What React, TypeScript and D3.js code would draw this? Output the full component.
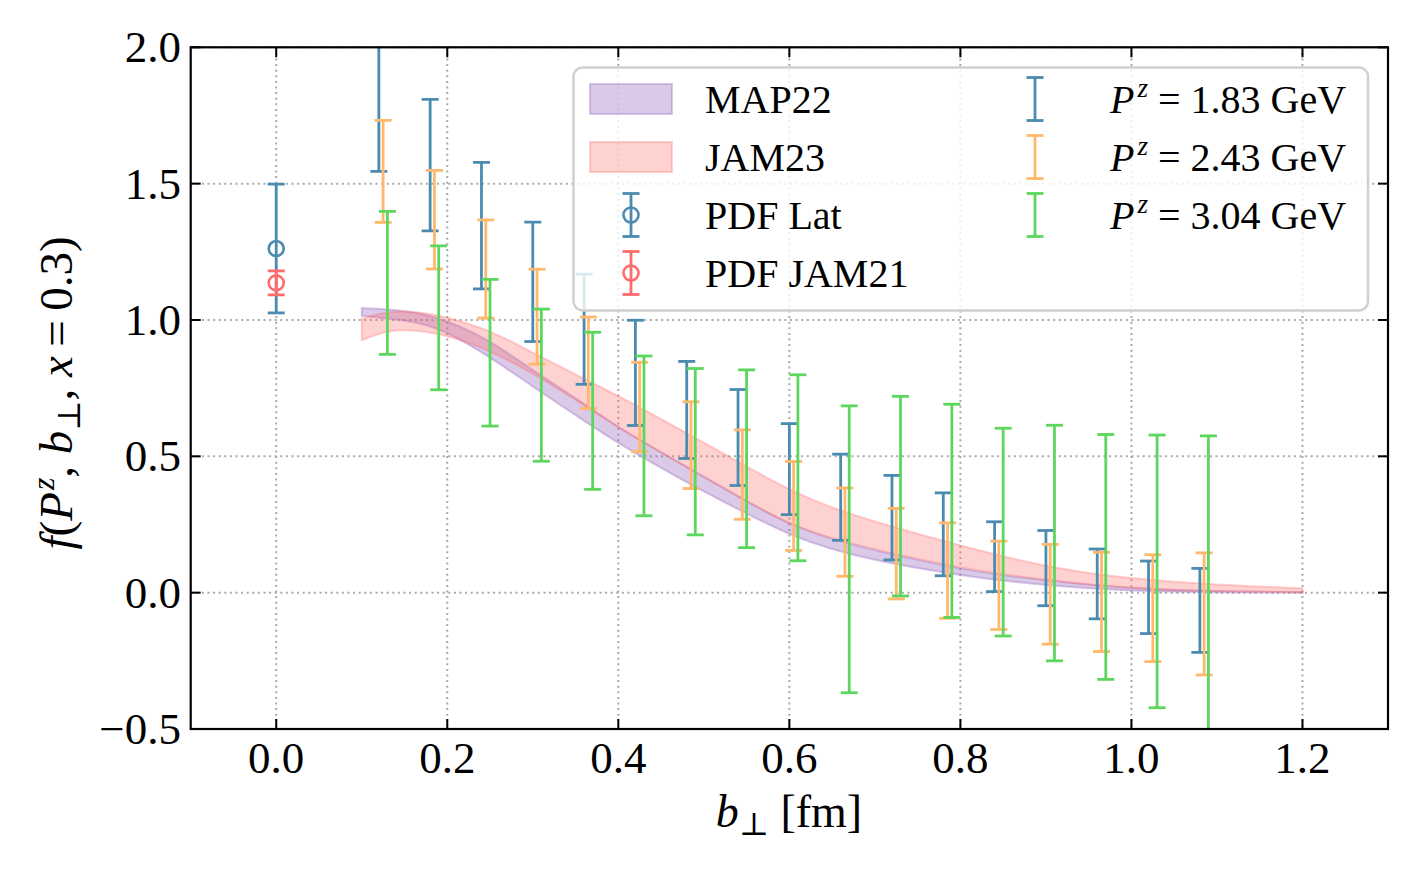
import React from "react";
import * as d3 from "d3";

// ---------- data ----------
const xTicks = [0.0, 0.2, 0.4, 0.6, 0.8, 1.0, 1.2];
const yTicks = [-0.5, 0.0, 0.5, 1.0, 1.5, 2.0];

const bPerp = [0.12, 0.18, 0.24, 0.3, 0.36, 0.42, 0.48, 0.54, 0.6, 0.66, 0.72, 0.78, 0.84, 0.9, 0.96, 1.02, 1.08];
const seriesOffset = [0, 0.005, 0.01];

const pz183Val = [1.813, 1.568, 1.346, 1.14, 0.966, 0.806, 0.67, 0.569, 0.453, 0.35, 0.275, 0.214, 0.132, 0.09, 0.032, -0.017, -0.065];
const pz183Err = [0.268, 0.241, 0.232, 0.219, 0.202, 0.193, 0.178, 0.176, 0.167, 0.158, 0.155, 0.152, 0.128, 0.138, 0.128, 0.133, 0.154];

const pz243Val = [1.545, 1.368, 1.187, 1.012, 0.843, 0.681, 0.541, 0.433, 0.318, 0.222, 0.143, 0.081, 0.027, -0.006, -0.034, -0.057, -0.078];
const pz243Err = [0.187, 0.181, 0.18, 0.174, 0.168, 0.164, 0.159, 0.164, 0.163, 0.162, 0.166, 0.175, 0.162, 0.183, 0.182, 0.196, 0.224];

const pz304Val = [1.136, 1.008, 0.88, 0.761, 0.667, 0.575, 0.517, 0.491, 0.458, 0.159, 0.354, 0.3, 0.222, 0.182, 0.131, 0.078, 0.0];
const pz304Err = [0.262, 0.264, 0.269, 0.279, 0.288, 0.293, 0.305, 0.326, 0.341, 0.526, 0.366, 0.391, 0.381, 0.432, 0.449, 0.5, 0.575];

const pdfX = [0.0];
const pdfLatVal = [1.262];
const pdfLatErr = [0.236];
const pdfJamVal = [1.136];
const pdfJamErr = [0.044];

const bandX = [0.1, 0.13, 0.165, 0.2, 0.25, 0.3, 0.35, 0.4, 0.45, 0.5, 0.55, 0.6, 0.65, 0.7, 0.8, 0.9, 1.0, 1.1, 1.2];
const map22Lo = [1.015, 1.005, 0.993, 0.956, 0.865, 0.755, 0.651, 0.547, 0.457, 0.37, 0.29, 0.211, 0.158, 0.118, 0.062, 0.025, 0.005, 0.001, 0.0];
const map22Hi = [1.044, 1.04, 1.028, 0.999, 0.926, 0.815, 0.715, 0.605, 0.515, 0.425, 0.335, 0.25, 0.195, 0.155, 0.085, 0.043, 0.015, 0.005, 0.002];
const jam23Lo = [0.926, 0.963, 0.963, 0.944, 0.889, 0.805, 0.708, 0.605, 0.513, 0.425, 0.335, 0.25, 0.198, 0.158, 0.089, 0.045, 0.014, 0.004, 0.001];
const jam23Hi = [1.005, 1.032, 1.032, 1.011, 0.963, 0.88, 0.8, 0.722, 0.637, 0.55, 0.463, 0.376, 0.31, 0.26, 0.172, 0.093, 0.05, 0.028, 0.016];

const seriesLabels = ["1.83", "2.43", "3.04"];

// ---------- style ----------
const W = 1420;
const H = 878;
const L = 190.7, R = 1388, T = 47.3, B = 729;
const BLUE = "#4B8BB0";
const ORANGE = "#FFB86C";
const GREEN = "#5CD65C";
const RED = "#FF6B6B";
const PURPLE = "#9467BD";
const PINK = "#FF6B6B";
const FONT = "'Liberation Serif', 'DejaVu Serif', serif";
const CAP = 8.5;
const LW = 2.8;

const x = d3.scaleLinear().domain([-0.1, 1.3]).range([L, R]);
const y = d3.scaleLinear().domain([-0.5, 2.0]).range([B, T]);

const fmt = (v: number) => (v < 0 ? "\u2212" : "") + Math.abs(v).toFixed(1);

type Pt = { x: number; lo: number; hi: number };

function ErrBar({ cx, lo, hi, color }: { cx: number; lo: number; hi: number; color: string }) {
  return (
    <g stroke={color} strokeWidth={LW} fill="none">
      <line x1={cx} x2={cx} y1={lo} y2={hi} />
      <line x1={cx - CAP} x2={cx + CAP} y1={lo} y2={lo} />
      <line x1={cx - CAP} x2={cx + CAP} y1={hi} y2={hi} />
    </g>
  );
}

export default function App() {
  const areaGen = d3
    .area<Pt>()
    .x((d) => x(d.x))
    .y0((d) => y(d.lo))
    .y1((d) => y(d.hi))
    .curve(d3.curveBasis);

  const mapPts: Pt[] = bandX.map((bx, i) => ({ x: bx, lo: map22Lo[i], hi: map22Hi[i] }));
  const jamPts: Pt[] = bandX.map((bx, i) => ({ x: bx, lo: jam23Lo[i], hi: jam23Hi[i] }));

  const series = [
    { vals: pz183Val, errs: pz183Err, color: BLUE },
    { vals: pz243Val, errs: pz243Err, color: ORANGE },
    { vals: pz304Val, errs: pz304Err, color: GREEN },
  ];

  // legend geometry
  const lgX = 573.5, lgY = 67.5, lgW = 794.5, lgH = 243;
  const rowY = [99, 157, 215, 273];

  return (
    <svg
      width={W}
      height={H}
      viewBox={`0 0 ${W} ${H}`}
      style={{ position: "absolute", left: 0, top: 0, background: "#fff" }}
      fontFamily={FONT}
    >
      <defs>
        <clipPath id="plotclip">
          <rect x={L} y={T} width={R - L} height={B - T} />
        </clipPath>
      </defs>
      <rect x={0} y={0} width={W} height={H} fill="#fff" />

      {/* grid */}
      <g stroke="#a8a8a8" strokeWidth={2} strokeDasharray="2 3.6">
        {xTicks.map((t) => (
          <line key={"gx" + t} x1={x(t)} x2={x(t)} y1={T} y2={B} />
        ))}
        {yTicks.map((t) => (
          <line key={"gy" + t} x1={L} x2={R} y1={y(t)} y2={y(t)} />
        ))}
      </g>

      <g clipPath="url(#plotclip)">
        {/* bands */}
        <path d={areaGen(mapPts) || ""} fill={PURPLE} fillOpacity={0.35} stroke={PURPLE} strokeOpacity={0.35} strokeWidth={2} />
        <path d={areaGen(jamPts) || ""} fill={PINK} fillOpacity={0.3} stroke={PINK} strokeOpacity={0.3} strokeWidth={2} />

        {/* PDF points at b=0 */}
        {pdfX.map((px, i) => (
          <g key={"pl" + i}>
            <ErrBar cx={x(px)} lo={y(pdfLatVal[i] - pdfLatErr[i])} hi={y(pdfLatVal[i] + pdfLatErr[i])} color={BLUE} />
            <circle cx={x(px)} cy={y(pdfLatVal[i])} r={7.5} fill="none" stroke={BLUE} strokeWidth={2.6} />
          </g>
        ))}
        {pdfX.map((px, i) => (
          <g key={"pj" + i}>
            <ErrBar cx={x(px)} lo={y(pdfJamVal[i] - pdfJamErr[i])} hi={y(pdfJamVal[i] + pdfJamErr[i])} color={RED} />
            <circle cx={x(px)} cy={y(pdfJamVal[i])} r={7.5} fill="none" stroke={RED} strokeWidth={2.6} />
          </g>
        ))}

        {/* lattice error bars */}
        {series.map((s, si) =>
          bPerp.map((b, i) => (
            <ErrBar
              key={si + "-" + i}
              cx={x(b + seriesOffset[si])}
              lo={y(s.vals[i] - s.errs[i])}
              hi={y(s.vals[i] + s.errs[i])}
              color={s.color}
            />
          ))
        )}
      </g>

      {/* legend */}
      <g>
        <rect x={lgX} y={lgY} width={lgW} height={lgH} rx={9} ry={9} fill="#fff" fillOpacity={0.8} stroke="#d0d0d0" strokeWidth={2.5} />
        <rect x={590} y={rowY[0] - 15} width={82} height={30} fill={PURPLE} fillOpacity={0.35} stroke={PURPLE} strokeOpacity={0.35} strokeWidth={2} />
        <rect x={590} y={rowY[1] - 15} width={82} height={30} fill={PINK} fillOpacity={0.3} stroke={PINK} strokeOpacity={0.3} strokeWidth={2} />
        <ErrBar cx={631} lo={rowY[2] - 21.5} hi={rowY[2] + 21.5} color={BLUE} />
        <circle cx={631} cy={rowY[2]} r={7.5} fill="none" stroke={BLUE} strokeWidth={2.6} />
        <ErrBar cx={631} lo={rowY[3] - 21.5} hi={rowY[3] + 21.5} color={RED} />
        <circle cx={631} cy={rowY[3]} r={7.5} fill="none" stroke={RED} strokeWidth={2.6} />
        <g fontSize={40} fill="#000">
          <text x={705} y={rowY[0] + 14}>MAP22</text>
          <text x={705} y={rowY[1] + 14}>JAM23</text>
          <text x={705} y={rowY[2] + 14}>PDF Lat</text>
          <text x={705} y={rowY[3] + 14}>PDF JAM21</text>
        </g>
        {series.map((s, si) => (
          <g key={"lg" + si}>
            <ErrBar cx={1035} lo={rowY[si] - 21.5} hi={rowY[si] + 21.5} color={s.color} />
            <text x={1110} y={rowY[si] + 14} fontSize={40} fill="#000">
              <tspan fontStyle="italic">P</tspan>
              <tspan fontStyle="italic" fontSize={27} dy={-16} dx={3}>z</tspan>
              <tspan dy={16}>{" = " + seriesLabels[si] + " GeV"}</tspan>
            </text>
          </g>
        ))}
      </g>

      {/* frame */}
      <rect x={L} y={T} width={R - L} height={B - T} fill="none" stroke="#000" strokeWidth={2.2} />

      {/* ticks (inward, all sides) */}
      <g stroke="#000" strokeWidth={2}>
        {xTicks.map((t) => (
          <g key={"tx" + t}>
            <line x1={x(t)} x2={x(t)} y1={B} y2={B - 10} />
            <line x1={x(t)} x2={x(t)} y1={T} y2={T + 10} />
          </g>
        ))}
        {yTicks.map((t) => (
          <g key={"ty" + t}>
            <line x1={L} x2={L + 10} y1={y(t)} y2={y(t)} />
            <line x1={R} x2={R - 10} y1={y(t)} y2={y(t)} />
          </g>
        ))}
      </g>

      {/* tick labels */}
      <g fontSize={45} fill="#000">
        {xTicks.map((t) => (
          <text key={"lx" + t} x={x(t)} y={773} textAnchor="middle">
            {fmt(t)}
          </text>
        ))}
        {yTicks.map((t) => (
          <text key={"ly" + t} x={181} y={y(t) + 15} textAnchor="end">
            {fmt(t)}
          </text>
        ))}
      </g>

      {/* axis labels */}
      <text x={789} y={827} textAnchor="middle" fontSize={46} fill="#000">
        <tspan fontStyle="italic">b</tspan>
        <tspan fontSize={32} dy={8}>{"\u22A5"}</tspan>
        <tspan dy={-8}>{" [fm]"}</tspan>
      </text>
      <text transform="translate(72,393) rotate(-90)" textAnchor="middle" fontSize={47} fill="#000">
        <tspan fontStyle="italic">f</tspan>
        <tspan>(</tspan>
        <tspan fontStyle="italic">P</tspan>
        <tspan fontStyle="italic" fontSize={32} dy={-18} dx={2}>z</tspan>
        <tspan dy={18}>, </tspan>
        <tspan fontStyle="italic">b</tspan>
        <tspan fontSize={32} dy={8}>{"\u22A5"}</tspan>
        <tspan dy={-8}>, </tspan>
        <tspan fontStyle="italic">x</tspan>
        <tspan>{"\u2009=\u20090.3)"}</tspan>
      </text>
    </svg>
  );
}
